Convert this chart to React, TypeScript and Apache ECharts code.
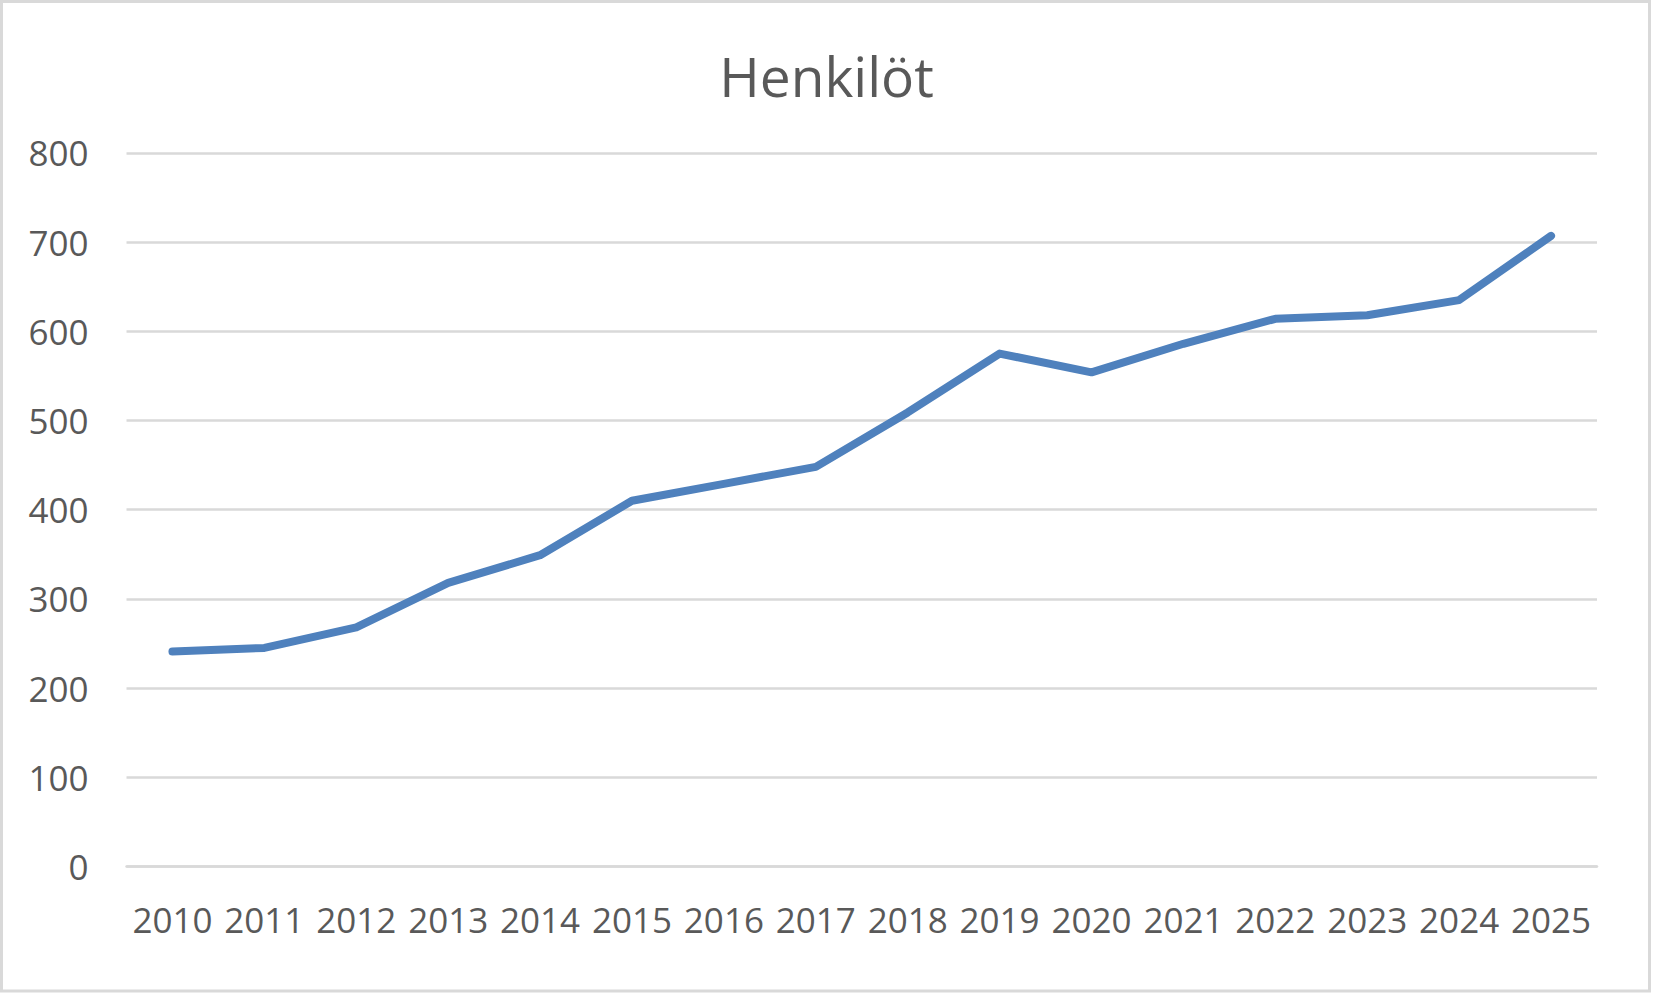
import React, { useEffect, useRef } from "react";
import * as echarts from "echarts";

const titleText = "Henkilöt";
const years = ["2010", "2011", "2012", "2013", "2014", "2015", "2016", "2017", "2018", "2019", "2020", "2021", "2022", "2023", "2024", "2025"];
const persons = [241, 245, 268, 318, 349, 410, 429, 448, 509, 575, 554, 586, 614, 618, 635, 707];
const yMin = 0;
const yMax = 800;
const yStep = 100;

const FONT = "'Open Sans', 'Noto Sans', sans-serif";
const TEXT_COLOR = "#595959";
const GRID_COLOR = "#d9d9d9";

export default function App() {
  const ref = useRef<HTMLDivElement>(null);
  useEffect(() => {
    if (!ref.current) return;
    const chart = echarts.init(ref.current, undefined, { renderer: "svg" });
    chart.setOption({
      animation: false,
      backgroundColor: "#ffffff",
      title: {
        text: titleText,
        left: "center",
        top: 43,
        textStyle: { fontFamily: FONT, fontSize: 55, fontWeight: "normal", color: TEXT_COLOR },
      },
      graphic: [
        {
          type: "rect",
          shape: { x: 1.5, y: 1.5, width: 1648, height: 989.5 },
          style: { fill: "none", stroke: GRID_COLOR, lineWidth: 3 },
          silent: true,
        },
      ],
      grid: { left: 126.5, right: 56, top: 152.9, bottom: 126.5, containLabel: false },
      xAxis: {
        type: "category",
        data: years,
        boundaryGap: true,
        axisLine: { show: true, lineStyle: { color: GRID_COLOR, width: 2.5 } },
        axisTick: { show: false },
        axisLabel: { interval: 0, color: TEXT_COLOR, fontFamily: FONT, fontSize: 35, margin: 35 },
      },
      yAxis: {
        type: "value",
        min: yMin,
        max: yMax,
        interval: yStep,
        axisLine: { show: false },
        axisTick: { show: false },
        splitLine: { lineStyle: { color: GRID_COLOR, width: 2.5 } },
        axisLabel: { color: TEXT_COLOR, fontFamily: FONT, fontSize: 35, margin: 38 },
      },
      series: [
        {
          type: "line",
          data: persons,
          symbol: "none",
          lineStyle: { color: "#4f81bd", width: 8, cap: "round", join: "round" },
        },
      ],
    });
    return () => chart.dispose();
  }, []);
  return (
    <div
      ref={ref}
      style={{ position: "fixed", left: 0, top: 0, width: 1653, height: 993 }}
    />
  );
}
